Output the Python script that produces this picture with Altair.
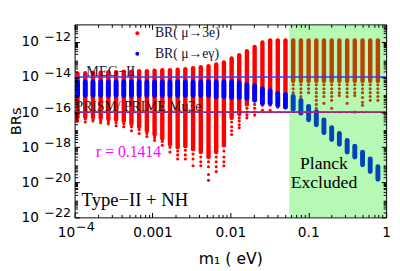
import altair as alt
import pandas as pd

# ---- data ----
M1 = [1.09e-4, 1.37e-4, 1.72e-4, 2.16e-4, 2.71e-4, 3.41e-4, 4.28e-4, 5.37e-4, 6.74e-4, 8.47e-4,
      1.064e-3, 1.336e-3, 1.676e-3, 2.105e-3, 2.64e-3, 3.32e-3, 4.17e-3, 5.24e-3, 6.58e-3, 8.26e-3,
      0.01038, 0.0130, 0.0163, 0.0205, 0.0258, 0.0324, 0.0406, 0.0510, 0.0641, 0.0805,
      0.1011, 0.127, 0.159, 0.200, 0.251, 0.316, 0.396, 0.498, 0.625, 0.784]

# log10 BR(mu -> 3e): top and bottom of the dense part of each column
RED_TOP = [-13.81, -13.78, -13.75, -13.75, -13.72, -13.72, -13.69, -13.69, -13.67, -13.67,
           -13.64, -13.61, -13.61, -13.58, -13.56, -13.50, -13.44, -13.39, -13.28, -13.17,
           -12.94, -12.75, -12.53, -12.28, -12.03, -11.91, -11.91, -11.91, -11.91, -11.91,
           -11.91, -11.91, -11.91, -11.91, -11.91, -11.91, -11.91, -11.91, -11.91, -11.91]
RED_LOW = [-16.28, -16.28, -16.28, -16.33, -16.39, -16.44, -16.50, -16.67, -16.83, -17.06,
           -17.28, -17.50, -17.83, -18.00, -17.94, -18.11, -18.28, -18.56, -18.28, -17.89,
           -16.33, -16.11, -15.56, -15.22, -15.11, -15.00, -14.94, -14.89, -14.22, -14.22,
           -14.22, -14.22, -14.22, -14.22, -14.22, -14.22, -14.22, -14.22, -14.22, -14.22]
# scattered points below the dense part (log10 BR(mu -> 3e))
RED_TAIL = [
    [-16.39, -16.50], [-16.39, -16.56], [-16.39, -16.50], [-16.50, -16.61], [-16.56, -16.67],
    [-16.61, -16.78], [-16.67, -16.83], [-16.83, -17.06], [-17.00, -17.22], [-17.22, -17.39],
    [-17.44, -17.61], [-17.67, -17.89], [-18.00, -18.28], [-18.22, -18.44, -18.67],
    [-18.17, -18.44, -18.67], [-18.39, -18.67, -19.06], [-18.56, -18.83, -19.06],
    [-18.83, -19.11, -19.56, -19.89], [-18.56, -18.83, -19.11, -19.39],
    [-18.22, -18.56, -18.83, -19.06], [-16.56, -16.83, -17.06, -17.28],
    [-16.33, -16.50, -16.72, -16.89], [-15.78, -16.00, -16.17, -16.33],
    [-15.56, -15.78, -16.00, -16.17], [-15.33, -15.61, -15.89], [-15.33, -15.61, -15.89],
    [-15.22, -15.50, -15.72], [-15.17, -15.39, -15.61],
    [-14.44, -14.67, -14.89, -15.11, -15.33, -15.56, -15.78],
    [-14.44, -14.67, -14.89, -15.11, -15.33, -15.56, -15.89],
    [-14.44, -14.67, -14.89],
    [-14.44, -14.67, -14.89, -15.11, -15.33, -15.56, -15.78],
    [-14.44, -14.67, -14.89, -15.11, -15.50],
    [-14.44, -14.67, -14.89, -15.11, -15.33, -15.78],
    [-14.44, -14.67, -14.89, -15.06],
    [-14.44, -14.67, -14.89, -15.11, -15.50],
    [-14.44, -14.67, -14.89, -15.06, -16.00],
    [-14.44, -14.67, -14.89, -15.17, -15.44, -15.61],
    [-14.44, -14.67, -14.89, -15.11, -15.33],
    [-14.44, -14.67, -14.89, -15.11, -15.33],
]
# log10 BR(mu -> e gamma): top and bottom of each column
BLUE_TOP = [-14.28] * 18 + [-14.28, -14.28, -14.28, -14.33, -14.42, -14.50, -14.67, -14.78,
                            -14.94, -15.00, -15.11, -15.33, -15.67, -15.98, -16.44, -16.89,
                            -17.22, -17.61, -17.94, -18.28, -18.67, -19.11]
BLUE_LOW = [-15.06] * 18 + [-15.14, -15.11, -15.17, -15.17, -15.22, -15.33, -15.50, -15.50,
                            -15.61, -15.72, -15.83, -16.06, -16.44, -16.72, -17.17, -17.56,
                            -17.83, -18.28, -18.56, -19.00, -19.39, -19.83]

SERIES = ["BR( μ→3e)", "BR( μ→eγ)"]
MEG_II = 1e-14
PRISM = 1e-16
PLANCK_M1 = 0.057
X_MAJOR = [1e-4, 1e-3, 1e-2, 1e-1, 1.0]
X_MINOR = [k * 10.0 ** e for e in (-4, -3, -2, -1) for k in range(2, 10)]
Y_LABELED = [1e-22, 1e-20, 1e-18, 1e-16, 1e-14, 1e-12]
Y_MINOR = [k * 10.0 ** e for e in range(-22, -11) for k in range(2, 10)]

cols = pd.DataFrame({
    "m1": M1,
    "rt": [10 ** v for v in RED_TOP], "rl": [10 ** v for v in RED_LOW],
    "bt": [10 ** v for v in BLUE_TOP], "bl": [10 ** v for v in BLUE_LOW],
})
tails = pd.DataFrame(
    [(M1[i], 10 ** v, SERIES[0]) for i, lst in enumerate(RED_TAIL) for v in lst],
    columns=["m1", "br", "series"])

W, H = 318, 197
XS = alt.Scale(type="log", domain=[1e-4, 1], nice=False)
YS = alt.Scale(type="log", domain=[1e-22, 1e-11], nice=False)
SANS = "DejaVu Sans"
SERIF = "Liberation Serif"

common = dict(grid=False, domain=False, zindex=1, tickColor="black", tickWidth=1,
              labelOverlap=False, labelFlush=False, labelColor="black")

ax_x_main = alt.Axis(orient="bottom", values=X_MAJOR, offset=-5, tickSize=5, labelPadding=9,
                     labelFont=SANS, labelFontSize=14,
                     labelExpr="datum.value < 0.0002 ? '10' : datum.value < 0.002 ? '0.001' : "
                               "datum.value < 0.02 ? '0.01' : datum.value < 0.2 ? '0.1' : '1'",
                     labelAlign={"condition": {"test": "datum.value < 0.0002", "value": "right"},
                                 "value": "center"},
                     title="m₁ ( eV)", titleFont=SANS, titleFontSize=16, titleFontWeight="normal",
                     titleColor="black", titlePadding=11, **common)
ax_x_sup = alt.Axis(orient="bottom", values=[1e-4], ticks=False, labelPadding=3,
                    labelFont=SANS, labelFontSize=13, labelExpr="'−4'", labelAlign="left",
                    labelOffset=1, title=None, **common)
ax_x_top = alt.Axis(orient="top", values=X_MAJOR, offset=-5, tickSize=5, labels=False, title=None, **common)
ax_x_minor_b = alt.Axis(orient="bottom", values=X_MINOR, offset=-3, tickSize=3, labels=False, title=None, **common)
ax_x_minor_t = alt.Axis(orient="top", values=X_MINOR, offset=-3, tickSize=3, labels=False, title=None, **common)

ax_y_main = alt.Axis(orient="left", values=Y_LABELED, offset=-5, tickSize=5, labelPadding=37,
                     labelFont=SANS, labelFontSize=14, labelExpr="'10'",
                     title="BRs", titleFont=SANS, titleFontSize=15, titleFontWeight="normal",
                     titleColor="black", titlePadding=-3, **common)
ax_y_sup = alt.Axis(orient="left", values=Y_LABELED, ticks=False, labelPadding=4,
                    labelFont=SANS, labelFontSize=13,
                    labelExpr="'−' + round(-log(datum.value) / LN10)",
                    labelOffset=-5, title=None, **common)
ax_y_right = alt.Axis(orient="right", values=Y_LABELED, offset=-5, tickSize=5, labels=False, title=None, **common)
ax_y_minor_l = alt.Axis(orient="left", values=Y_MINOR, offset=-3, tickSize=3, labels=False, title=None, **common)
ax_y_minor_r = alt.Axis(orient="right", values=Y_MINOR, offset=-3, tickSize=3, labels=False, title=None, **common)

red = alt.Chart(cols).mark_rule(color="#ff0000", strokeWidth=4.5, strokeCap="round", clip=True).encode(
    x=alt.X("m1:Q", scale=XS, axis=ax_x_main),
    y=alt.Y("rt:Q", scale=YS, axis=ax_y_main),
    y2="rl:Q")

red_pts = alt.Chart(tails).mark_circle(size=10, opacity=1, clip=True).encode(
    x=alt.X("m1:Q", scale=XS, axis=ax_x_sup),
    y=alt.Y("br:Q", scale=YS, axis=ax_y_sup),
    color=alt.Color("series:N",
                    scale=alt.Scale(domain=SERIES, range=["#ff0000", "#0000ff"]),
                    legend=alt.Legend(orient="none", legendX=57, legendY=2, title=None,
                                      labelFont=SERIF, labelFontSize=14, labelColor="#111133",
                                      symbolType="circle", symbolSize=16, symbolStrokeWidth=0,
                                      labelOffset=11, rowPadding=7, padding=0)))

blue = alt.Chart(cols).mark_rule(color="#0000ff", strokeWidth=5, strokeCap="round", clip=True).encode(
    x=alt.X("m1:Q", scale=XS, axis=ax_x_top),
    y=alt.Y("bt:Q", scale=YS, axis=ax_y_right),
    y2="bl:Q")

green = alt.Chart(pd.DataFrame({"x1": [PLANCK_M1], "x2": [1.0], "y1": [1e-22], "y2": [1e-11]})).mark_rect(
    color="#00eb00", opacity=0.29).encode(
    x=alt.X("x1:Q", scale=XS, axis=ax_x_minor_b), x2="x2:Q",
    y=alt.Y("y1:Q", scale=YS, axis=ax_y_minor_l), y2="y2:Q")

meg = alt.Chart(pd.DataFrame({"y": [MEG_II]})).mark_rule(color="#3a3aff", strokeWidth=1.5).encode(
    y=alt.Y("y:Q", scale=YS, axis=ax_y_minor_r))
prism_a = alt.Chart(pd.DataFrame({"y": [PRISM]})).mark_rule(color="#6a2a8a", strokeWidth=2).encode(
    y=alt.Y("y:Q", scale=YS, axis=None))
prism_b = alt.Chart(pd.DataFrame({"y": [PRISM]})).mark_rule(color="#d8206a", strokeWidth=2,
                                                            strokeDash=[3, 3]).encode(
    y=alt.Y("y:Q", scale=YS, axis=None))


def label(m1, br, text, axis=None, **kw):
    return alt.Chart(pd.DataFrame({"m1": [m1], "br": [br], "t": [text]})).mark_text(**kw).encode(
        x=alt.X("m1:Q", scale=XS, axis=axis), y=alt.Y("br:Q", scale=YS, axis=None), text="t:N")


t_meg = label(2.92e-4, MEG_II, "MEG−II", axis=ax_x_minor_t, font=SERIF, fontSize=14.5,
              color="#1a1a33", align="center", baseline="alphabetic", dy=-1)
t_prism = label(1e-4, PRISM, "PRISM/ PRIME  Mu3e", font=SERIF, fontSize=14, color="#2a1010",
                align="left", baseline="alphabetic", dx=1, dy=-1)
t_r = label(4.92e-4, 10 ** -18.56, "r = 0.1414", font=SERIF, fontSize=16, color="#ff00ff",
            align="center", baseline="alphabetic")
t_type = label(5.94e-4, 10 ** -21.33, "Type−II + NH", font=SERIF, fontSize=19, color="black",
               align="center", baseline="alphabetic")
t_pl1 = label(0.159, 10 ** -19.25, "Planck", font=SERIF, fontSize=18, color="black",
              align="center", baseline="alphabetic")
t_pl2 = label(0.159, 10 ** -20.33, "Excluded", font=SERIF, fontSize=18, color="black",
              align="center", baseline="alphabetic")

chart = alt.layer(red, red_pts, blue, green, meg, prism_a, prism_b,
                  t_meg, t_prism, t_r, t_type, t_pl1, t_pl2).resolve_axis(
    x="independent", y="independent").properties(
    width=W, height=H, autosize=alt.AutoSizeParams(type="none"),
    padding={"left": 68, "top": 14, "right": 6, "bottom": 52}).configure_view(
    stroke="black", strokeWidth=1)

chart.save("out.html", embed_options={"renderer": "svg", "actions": False})
